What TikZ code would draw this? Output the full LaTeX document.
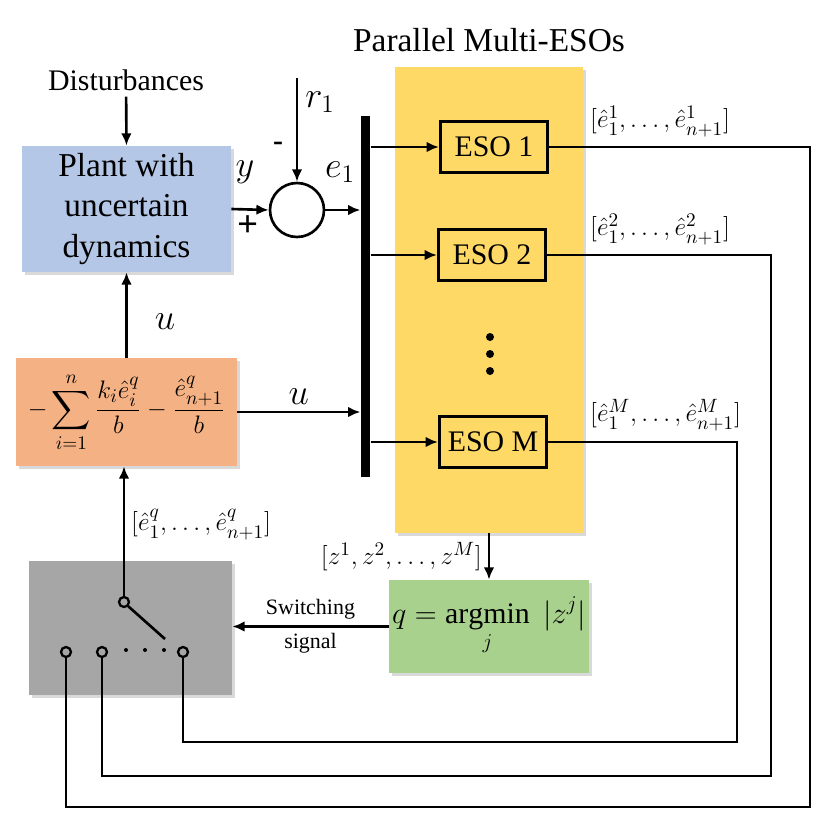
\documentclass[tikz,border=0pt]{standalone}
\usepackage{amsmath, amssymb}
\usepackage{fontspec}
\setmainfont{Liberation Serif}
\usepackage{tikz}
\usetikzlibrary{positioning, arrows.meta, shadows}
\usepackage{xcolor}
\definecolor{plantblue}{HTML}{B4C7E7}
\definecolor{ctrlorange}{HTML}{F4B183}
\definecolor{swgray}{HTML}{A6A6A6}
\definecolor{selgreen}{HTML}{A9D18E}
\definecolor{esoyellow}{HTML}{FFD966}

\begin{document}
\begin{tikzpicture}[x=0.02cm, y=-0.02cm,
    sig/.style={line width=1.5pt},
    arr/.style={sig, -{Latex[length=7pt, width=6pt]}},
    shade/.style={drop shadow={shadow xshift=1.5pt, shadow yshift=-1.5pt, opacity=.3}},
    txtbig/.style={font=\fontsize{19}{23}\selectfont},
    txtvar/.style={font=\fontsize{21}{24}\selectfont},
    txtmid/.style={font=\fontsize{17}{20}\selectfont},
    txtlbl/.style={font=\fontsize{15}{18}\selectfont},
    txtsm/.style={font=\fontsize{12.5}{17}\selectfont},
    esobox/.style={draw, line width=1.8pt, fill=esoyellow, minimum width=2.14cm, minimum height=1.03cm, inner sep=0pt, txtmid},
    term/.style={circle, draw, line width=1.3pt, fill=swgray, minimum size=0.2cm, inner sep=0pt}]
\useasboundingbox (0,0) rectangle (831,832);

% observer bank
\node[shade, fill=esoyellow, minimum width=3.76cm, minimum height=9.32cm, inner sep=0pt] (esos) at (489,300) {};
\node[txtbig] (title) at (489,40) {Parallel Multi-ESOs};
\node[esobox] (eso1) at (494,147) {ESO 1};
\node[esobox] (eso2) at (492,255) {ESO 2};
\node[esobox] (esoM) at (493,442) {ESO M};
\foreach \y in {337,354,371}
  \fill (490,\y) circle[radius=0.08cm];

% plant and error
\node[txtmid] (dist) at (126,80) {Disturbances};
\node[shade, fill=plantblue, minimum width=4.18cm, minimum height=2.52cm, inner sep=0pt, align=center, txtbig] (plant) at (126.5,209) {Plant with\\uncertain\\dynamics};
\node[circle, draw, line width=1.5pt, minimum size=1.08cm, inner sep=0pt] (sum) at (297,210) {};
\coordinate (r1) at (297,78);
\node[fill=black, minimum width=0.19cm, minimum height=7.22cm, inner sep=0pt] (bar) at (365.5,296.5) {};

\draw[arr] (dist) -- (plant.north);
\draw[arr] (r1) -- (sum.north);
\draw[arr] (plant.east) -- (sum.west);
\draw[arr] (sum.east) -- (sum.east -| bar.west);
\node[txtvar] at (320,102) {$r_1$};
\node[txtvar] at (245,172) {$y$};
\node[txtvar] at (340,172) {$e_1$};
\node[txtvar] at (248,226) {\textbf{+}};
\node[txtmid] at (278,146) {\textbf{-}};

\draw[arr] (bar.east |- eso1.west) -- (eso1.west);
\draw[arr] (bar.east |- eso2.west) -- (eso2.west);
\draw[arr] (bar.east |- esoM.west) -- (esoM.west);

% control law
\node[shade, fill=ctrlorange, minimum width=4.42cm, minimum height=2.16cm, inner sep=0pt, font=\fontsize{15.5}{18}\selectfont] (ctrl) at (126.5,412)
  {$\displaystyle -\sum_{i=1}^{n}\frac{k_i\hat{e}_i^{q}}{b}-\frac{\hat{e}_{n+1}^{q}}{b}$};
\draw[arr] (ctrl.north) -- (plant.south);
\node[txtvar] at (165,322) {$u$};
\draw[arr] (ctrl.east) -- (ctrl.east -| bar.west) node[midway, above, txtvar] {$u$};

% selection and switch
\node[shade, fill=selgreen, minimum width=4.0cm, minimum height=1.86cm, inner sep=0pt, txtmid] (sel) at (489,626.5)
  {$q=\displaystyle\operatorname*{argmin}_{j}\;|z^{j}|$};
\draw[arr] (esos.south -| sel.north) -- (sel.north) node[midway, left, txtlbl] {$[z^1,z^2,\dots,z^M]$};

\node[shade, fill=swgray, minimum width=4.06cm, minimum height=2.68cm, inner sep=0pt] (sw) at (130.5,628) {};
\draw[arr] (sel.west) -- (sel.west -| sw.east)
  node[midway, above, txtsm] {Switching}
  node[midway, below, txtsm] {signal};

\node[term] (piv) at (124,602) {};
\node[term] (t1) at (66,652) {};
\node[term] (t2) at (102,652) {};
\node[term] (tM) at (183,652) {};
\coordinate (arm) at (165,639);
\draw[sig] (piv.south east) -- (arm);
\foreach \x in {126,145,164}
  \fill (\x,650) circle[radius=0.04cm];
\draw[arr] (piv.north) -- (piv.north |- ctrl.south)
  node[pos=0.55, right, txtlbl] {$[\hat{e}_1^{q},\dots,\hat{e}_{n+1}^{q}]$};

% estimates fed back to the switch
\coordinate (c1) at (810,807);
\coordinate (c2) at (771,776);
\coordinate (cM) at (737,742);
\draw[sig] (eso1.east) -| (c1) -| (t1.south);
\draw[sig] (eso2.east) -| (c2) -| (t2.south);
\draw[sig] (esoM.east) -| (cM) -| (tM.south);
\node[txtlbl, anchor=south west] at (584,143) {$[\hat{e}_1^{1},\dots,\hat{e}_{n+1}^{1}]$};
\node[txtlbl, anchor=south west] at (584,251) {$[\hat{e}_1^{2},\dots,\hat{e}_{n+1}^{2}]$};
\node[txtlbl, anchor=south west] at (584,437) {$[\hat{e}_1^{M},\dots,\hat{e}_{n+1}^{M}]$};
\end{tikzpicture}
\end{document}
